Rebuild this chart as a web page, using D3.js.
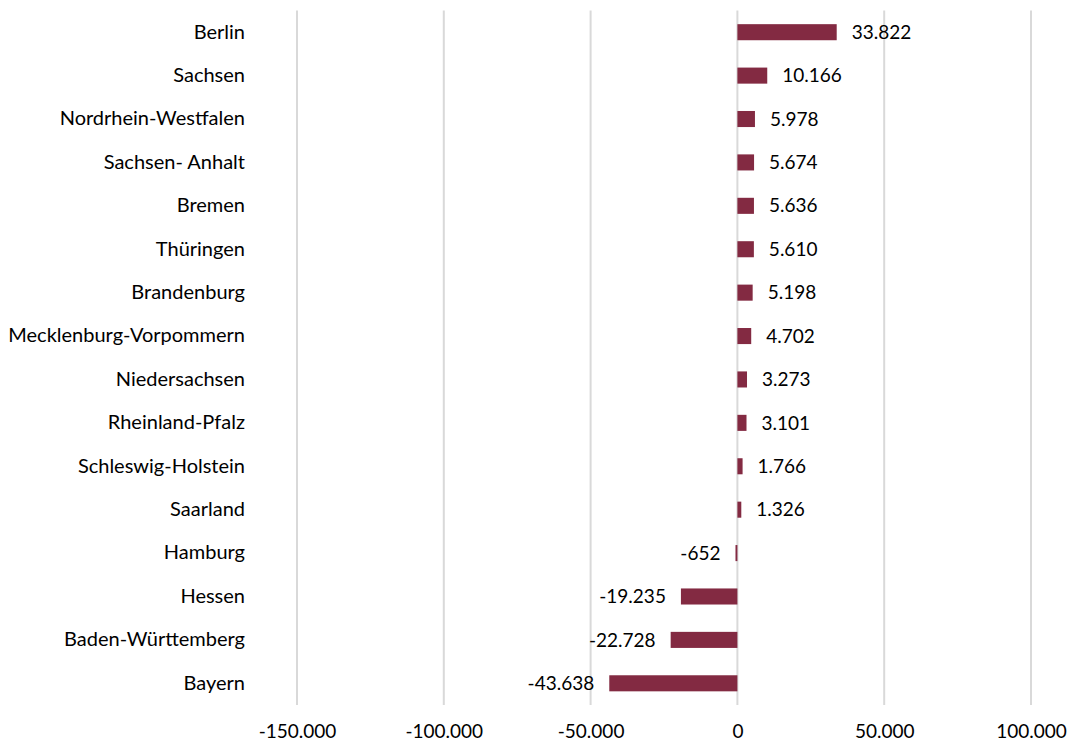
<!DOCTYPE html>
<html>
<head>
<meta charset="utf-8">
<script src="https://cdn.jsdelivr.net/npm/d3@7"></script>
<style>
  html, body { margin: 0; padding: 0; background: #ffffff; }
  svg { display: block; }
  text { font-family: Lato, "Open Sans", sans-serif; fill: #000000; }
</style>
</head>
<body>
<svg id="chart" width="1068" height="742"></svg>
<script>
// Bundesländer, ordered top to bottom
const states = [
  "Berlin", "Sachsen", "Nordrhein-Westfalen", "Sachsen- Anhalt", "Bremen",
  "Thüringen", "Brandenburg", "Mecklenburg-Vorpommern", "Niedersachsen",
  "Rheinland-Pfalz", "Schleswig-Holstein", "Saarland", "Hamburg", "Hessen",
  "Baden-Württemberg", "Bayern"
];
const values = [
  33822, 10166, 5978, 5674, 5636, 5610, 5198, 4702, 3273, 3101, 1766, 1326,
  -652, -19235, -22728, -43638
];
const xTicks = [-150000, -100000, -50000, 0, 50000, 100000];

const svg = d3.select("#chart");
const margin = { top: 10.5, right: 37, bottom: 37, left: 297 };
const width = 1068, height = 742;

const x = d3.scaleLinear()
  .domain([-150000, 100000])
  .range([margin.left, width - margin.right]);

const y = d3.scaleBand()
  .domain(states)
  .range([margin.top, height - margin.bottom])
  .paddingInner(0.63)
  .paddingOuter(0.315);

// German number format with a plain hyphen for negatives
const fmt = v => d3.format(",")(v).replace(/,/g, ".").replace("\u2212", "-");

// vertical gridlines
svg.append("g")
  .selectAll("line")
  .data(xTicks)
  .join("line")
  .attr("x1", d => x(d)).attr("x2", d => x(d))
  .attr("y1", margin.top).attr("y2", height - margin.bottom)
  .attr("stroke", "#d9d9d9")
  .attr("stroke-width", 2);

// x axis labels
const xAxis = d3.axisBottom(x).tickValues(xTicks).tickFormat(fmt).tickSize(0).tickPadding(19.5);
const gx = svg.append("g")
  .attr("transform", `translate(0,${height - margin.bottom})`)
  .call(xAxis);
gx.select(".domain").remove();
gx.selectAll("text")
  .attr("font-family", "Lato, 'Open Sans', sans-serif")
  .attr("font-size", 19)
  .attr("fill", "#000");

// category labels
const yAxis = d3.axisLeft(y).tickSize(0).tickPadding(52);
const gy = svg.append("g")
  .attr("transform", `translate(${margin.left},0)`)
  .call(yAxis);
gy.select(".domain").remove();
gy.selectAll("text")
  .attr("font-family", "Lato, 'Open Sans', sans-serif")
  .attr("font-size", 20)
  .attr("fill", "#000");

// bars
svg.append("g")
  .selectAll("rect")
  .data(values)
  .join("rect")
  .attr("x", d => Math.min(x(0), x(d)))
  .attr("width", d => Math.abs(x(d) - x(0)))
  .attr("y", (d, i) => y(states[i]))
  .attr("height", y.bandwidth())
  .attr("fill", "#832a42");

// value labels
svg.append("g")
  .selectAll("text")
  .data(values)
  .join("text")
  .attr("x", d => d >= 0 ? x(d) + 15 : x(d) - 15)
  .attr("y", (d, i) => y(states[i]) + y.bandwidth() / 2)
  .attr("dy", "0.35em")
  .attr("text-anchor", d => d >= 0 ? "start" : "end")
  .attr("font-size", 19)
  .text(fmt);
</script>
</body>
</html>
